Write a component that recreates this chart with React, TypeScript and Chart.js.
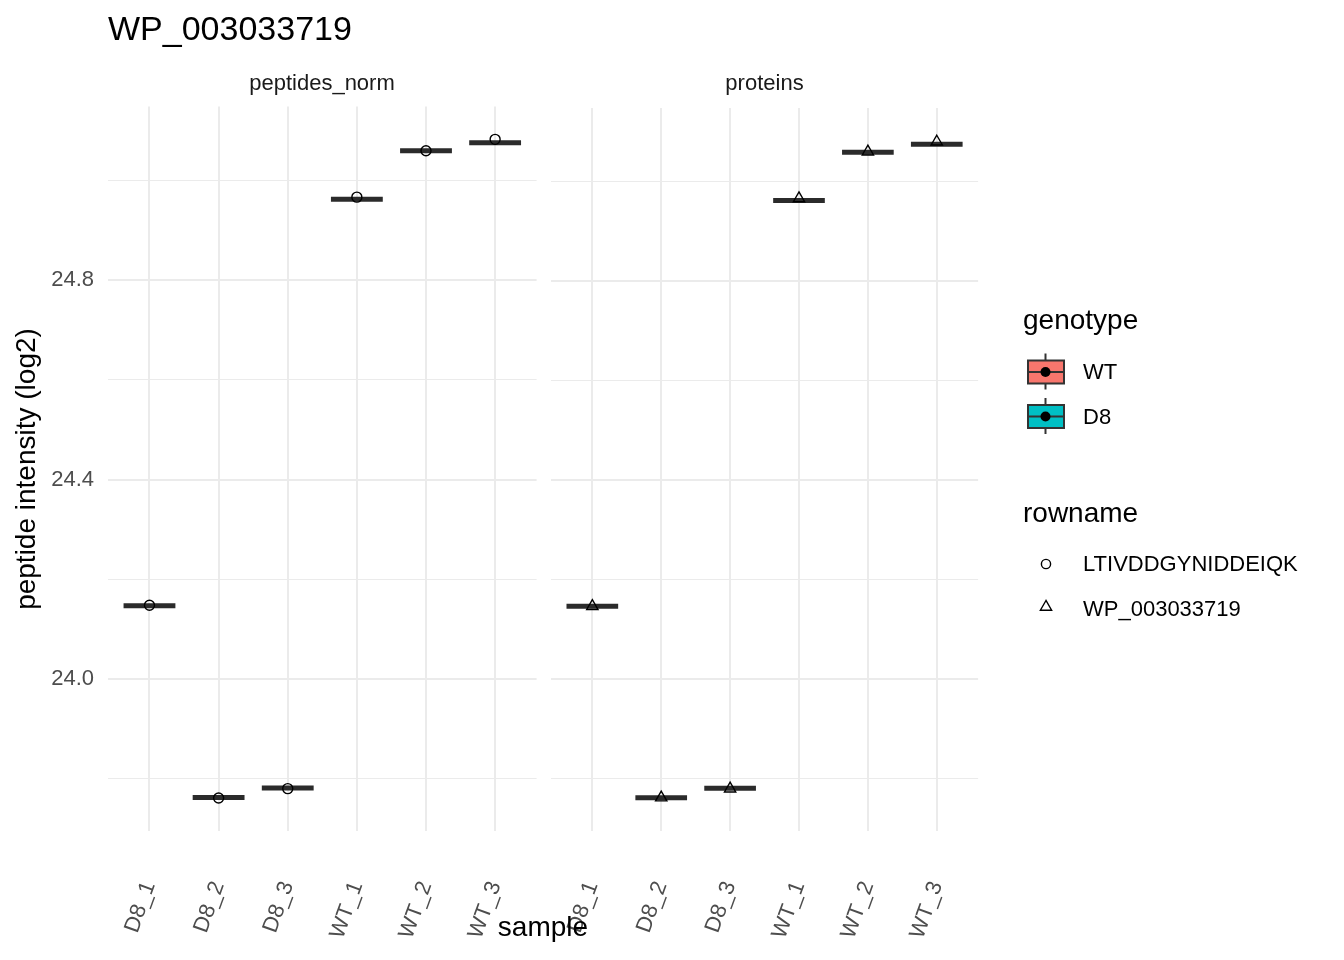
import React, { useEffect, useRef } from "react";
import { Chart, registerables } from "chart.js";

Chart.register(...registerables);

// ---------------- data ----------------
const samples = ["D8_1", "D8_2", "D8_3", "WT_1", "WT_2", "WT_3"];
const facetNames = ["peptides_norm", "proteins"];
const peptideBoxMedians = [24.147, 23.762, 23.781, 24.963, 25.06, 25.076];
const peptidePoints = [24.148, 23.761, 23.78, 24.967, 25.06, 25.083];
const proteinBoxMedians = [24.147, 23.762, 23.781, 24.963, 25.06, 25.076];
const proteinPoints = [24.147, 23.762, 23.78, 24.967, 25.061, 25.081];
const yGridValues = [23.8, 24.0, 24.2, 24.4, 24.6, 24.8, 25.0];
const yLabelValues = [24.0, 24.4, 24.8];
const genotypes = ["WT", "D8"];
const genotypeColors = ["#F8766D", "#00BFC4"];
const rownames = ["LTIVDDGYNIDDEIQK", "WP_003033719"];
const plotTitle = "WP_003033719";
const xTitle = "sample";
const yTitle = "peptide intensity (log2)";

// ---------------- derived ----------------
const FONT = '"Liberation Sans", Arial, Helvetica, sans-serif';
const allValues = [...peptideBoxMedians, ...peptidePoints, ...proteinBoxMedians, ...proteinPoints];
const dMin = Math.min(...allValues);
const dMax = Math.max(...allValues);
const Y_MIN = dMin - 0.05 * (dMax - dMin);
const Y_MAX = dMax + 0.05 * (dMax - dMin);
const X_MIN = 1 - 0.6;
const X_MAX = samples.length + 0.6;
const BOX_WIDTH = 0.75;

const isMajor = (v: number) => yLabelValues.some((m) => Math.abs(m - v) < 1e-6);

function boxData(meds: number[]) {
  const out: { x: number; y: number | null }[] = [];
  meds.forEach((v, i) => {
    out.push({ x: i + 1 - BOX_WIDTH / 2, y: v });
    out.push({ x: i + 1 + BOX_WIDTH / 2, y: v });
    out.push({ x: i + 1.5, y: null });
  });
  return out;
}

type PanelProps = {
  medians: number[];
  points: number[];
  pointStyle: "circle" | "triangle";
  pointRadius: number;
  showYLabels: boolean;
  left: number;
  width: number;
  yAxisWidth: number;
  padRight: number;
};

const CANVAS_TOP = 100;
const CANVAS_H = 860;

const zeroPad = (s: any) => {
  s.paddingLeft = 0;
  s.paddingRight = 0;
  s.paddingTop = 0;
  s.paddingBottom = 0;
};

function Panel(props: PanelProps) {
  const ref = useRef<HTMLCanvasElement | null>(null);
  useEffect(() => {
    if (!ref.current) return;
    const chart = new Chart(ref.current, {
      type: "line",
      data: {
        datasets: [
          {
            data: props.points.map((v, i) => ({ x: i + 1, y: v })),
            showLine: false,
            pointStyle: props.pointStyle,
            pointRadius: props.pointRadius,
            pointBorderColor: "#000000",
            pointBackgroundColor: "rgba(0,0,0,0)",
            pointBorderWidth: 1.4,
            order: 1,
          } as any,
          {
            data: boxData(props.medians),
            borderColor: "#2B2B2B",
            borderWidth: 5,
            borderCapStyle: "butt",
            pointRadius: 0,
            spanGaps: false,
            tension: 0,
            order: 2,
          } as any,
        ],
      },
      options: {
        animation: false,
        responsive: false,
        events: [],
        layout: { padding: { top: 6, right: props.padRight, left: 0, bottom: 0 } },
        plugins: {
          legend: { display: false },
          tooltip: { enabled: false },
          title: { display: false },
        },
        scales: {
          x: {
            type: "linear",
            min: X_MIN,
            max: X_MAX,
            afterBuildTicks: (s: any) => {
              s.ticks = samples.map((_, i) => ({ value: i + 1 }));
            },
            afterFit: (s: any) => {
              s.height = CANVAS_TOP + CANVAS_H - 831;
              zeroPad(s);
            },
            grid: { color: "#EBEBEB", lineWidth: 2, drawTicks: false },
            border: { display: false },
            ticks: {
              autoSkip: false,
              minRotation: 70,
              maxRotation: 70,
              padding: 47,
              color: "#4D4D4D",
              font: { family: FONT, size: 22 },
              callback: (v: any) => samples[Math.round(Number(v)) - 1] ?? "",
            },
          },
          y: {
            type: "linear",
            min: Y_MIN,
            max: Y_MAX,
            afterBuildTicks: (s: any) => {
              s.ticks = yGridValues.map((v) => ({ value: v }));
            },
            afterFit: (s: any) => {
              s.width = props.yAxisWidth;
              zeroPad(s);
            },
            grid: {
              color: "#EBEBEB",
              lineWidth: (c: any) => (c.tick && isMajor(c.tick.value) ? 2 : 1.1),
              drawTicks: false,
            },
            border: { display: false },
            ticks: {
              display: props.showYLabels,
              padding: 14,
              color: "#4D4D4D",
              font: { family: FONT, size: 22 },
              callback: (v: any) => (isMajor(Number(v)) ? Number(v).toFixed(1) : ""),
            },
          },
        },
      } as any,
    });
    return () => chart.destroy();
  }, []);
  return (
    <canvas
      ref={ref}
      width={props.width}
      height={CANVAS_H}
      style={{ position: "absolute", left: props.left, top: CANVAS_TOP, width: props.width, height: CANVAS_H }}
    />
  );
}

function Text(p: { x: number; y: number; size: number; color?: string; children: React.ReactNode; center?: boolean; rotate?: boolean }) {
  let transform = p.center ? "translateX(-50%)" : "";
  if (p.rotate) transform = "translate(-50%, -50%) rotate(-90deg)";
  return (
    <div
      style={{
        position: "absolute",
        left: p.x,
        top: p.y,
        fontSize: p.size,
        lineHeight: 1,
        color: p.color ?? "#000000",
        whiteSpace: "nowrap",
        fontFamily: FONT,
        transform,
      }}
    >
      {p.children}
    </div>
  );
}

export default function App() {
  const wtY = 372;
  const d8Y = 416.5;
  const keyCenters = [wtY, d8Y];
  const keyX = 1045.5;
  const rowY = [564, 607];
  const triR = 6.5;
  return (
    <div
      style={{
        position: "absolute",
        left: 0,
        top: 0,
        width: 1344,
        height: 960,
        overflow: "hidden",
        background: "#ffffff",
        fontFamily: FONT,
      }}
    >
      <Panel
        medians={peptideBoxMedians}
        points={peptidePoints}
        pointStyle="circle"
        pointRadius={5}
        showYLabels={true}
        left={0}
        width={543}
        yAxisWidth={108}
        padRight={4}
      />
      <Panel
        medians={proteinBoxMedians}
        points={proteinPoints}
        pointStyle="triangle"
        pointRadius={6.5}
        showYLabels={false}
        left={540}
        width={446}
        yAxisWidth={11}
        padRight={2}
      />

      <svg width={1344} height={960} style={{ position: "absolute", left: 0, top: 0, pointerEvents: "none" }}>
        {genotypes.map((g, i) => {
          const cy = keyCenters[i];
          return (
            <g key={g}>
              <line x1={keyX} x2={keyX} y1={cy - 18.5} y2={cy + 17.5} stroke="#333333" strokeWidth={2} />
              <rect x={1028} y={cy - 11.5} width={36} height={23} fill={genotypeColors[i]} stroke="#333333" strokeWidth={2} />
              <line x1={1028} x2={1064} y1={cy} y2={cy} stroke="#333333" strokeWidth={2} />
              <circle cx={keyX} cy={cy} r={5} fill="#000000" />
            </g>
          );
        })}
        <circle cx={1046} cy={rowY[0]} r={4.6} fill="none" stroke="#000000" strokeWidth={1.4} />
        <polygon
          points={`${1046},${rowY[1] - triR} ${1046 - triR * 0.866},${rowY[1] + triR / 2} ${1046 + triR * 0.866},${rowY[1] + triR / 2}`}
          fill="none"
          stroke="#000000"
          strokeWidth={1.4}
        />
      </svg>

      <Text x={108} y={11} size={34}>{plotTitle}</Text>
      <Text x={322} y={72} size={22} color="#1A1A1A" center>{facetNames[0]}</Text>
      <Text x={764.5} y={72} size={22} color="#1A1A1A" center>{facetNames[1]}</Text>
      <Text x={26} y={468.5} size={28} rotate>{yTitle}</Text>
      <Text x={543} y={913} size={28} center>{xTitle}</Text>

      <Text x={1023} y={305.5} size={28}>genotype</Text>
      <Text x={1083} y={wtY - 11} size={22}>{genotypes[0]}</Text>
      <Text x={1083} y={d8Y - 11} size={22}>{genotypes[1]}</Text>
      <Text x={1023} y={498.5} size={28}>rowname</Text>
      <Text x={1083} y={rowY[0] - 11} size={22}>{rownames[0]}</Text>
      <Text x={1083} y={rowY[1] - 9} size={22}>{rownames[1]}</Text>
    </div>
  );
}
